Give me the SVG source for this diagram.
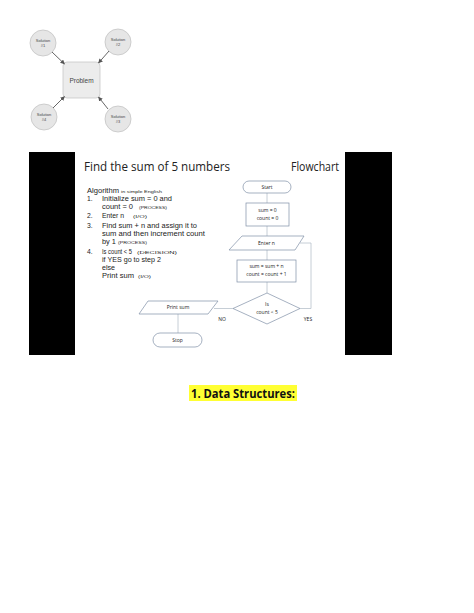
<svg xmlns="http://www.w3.org/2000/svg" width="474" height="613" viewBox="0 0 474 613">
<defs>
<marker id="ah" viewBox="0 0 10 10" refX="9" refY="5" markerWidth="5" markerHeight="5" orient="auto"><path d="M0,0 L10,5 L0,10 z" fill="#555"/></marker>
</defs>
<style>
.sol{fill:#e6e6e6;stroke:#c4c4c4;stroke-width:0.8}
.st{font-family:"Liberation Sans",Arial,sans-serif;font-size:4px;fill:#444;text-anchor:middle}
.arr{stroke:#555;stroke-width:0.9;fill:none}
.alg{font-family:"Liberation Sans",Arial,sans-serif;font-size:6.8px;fill:#222}
.sm{font-family:"Liberation Sans",Arial,sans-serif;font-size:4.2px;fill:#222}
.fs{fill:#fff;stroke:#7f8fa6;stroke-width:0.7}
.ft{font-family:"Open Sans","Liberation Sans",sans-serif;font-size:5px;fill:#222;text-anchor:middle}
.cn{stroke:#b8c2cc;stroke-width:0.8;fill:none}
</style>
<rect width="474" height="613" fill="#fff"/>
<!-- top diagram -->
<g id="problem"><rect x="63" y="62" width="37" height="36" rx="4" fill="#ececec" stroke="#c8c8c8" stroke-width="0.8"/><text x="81.5" y="82.5" font-family="Liberation Sans,Arial,sans-serif" font-size="6.5" fill="#444" text-anchor="middle">Problem</text></g>
<g id="sol1"><circle class="sol" cx="43" cy="43" r="13"/><text class="st" x="43" y="42">Solution</text><text class="st" x="43" y="47">#1</text></g>
<g id="sol2"><circle class="sol" cx="118" cy="42" r="13"/><text class="st" x="118" y="41">Solution</text><text class="st" x="118" y="46">#2</text></g>
<g id="sol4"><circle class="sol" cx="44" cy="117" r="13"/><text class="st" x="44" y="116">Solution</text><text class="st" x="44" y="121">#4</text></g>
<g id="sol3"><circle class="sol" cx="118" cy="119" r="13"/><text class="st" x="118" y="118">Solution</text><text class="st" x="118" y="123">#3</text></g>
<g id="top-connectors">
<line class="arr" x1="52" y1="52" x2="64.5" y2="64" marker-end="url(#ah)"/>
<line class="arr" x1="109" y1="51" x2="98.5" y2="63" marker-end="url(#ah)"/>
<line class="arr" x1="53" y1="108" x2="64.5" y2="96.5" marker-end="url(#ah)"/>
<line class="arr" x1="108" y1="109" x2="98.5" y2="97" marker-end="url(#ah)"/>
</g>
<!-- slide -->
<rect x="29" y="152" width="46" height="203" fill="#000"/>
<rect x="345" y="152" width="47" height="203" fill="#000"/>
<text x="84" y="171" font-family="Open Sans,Liberation Sans,sans-serif" font-size="12.5" fill="#222" textLength="146" lengthAdjust="spacingAndGlyphs">Find the sum of 5 numbers</text>
<text x="291" y="171" font-family="Open Sans,Liberation Sans,sans-serif" font-size="12.5" fill="#222" textLength="48" lengthAdjust="spacingAndGlyphs">Flowchart</text>
<g id="algorithm">
<text class="alg" x="87" y="193" textLength="32" lengthAdjust="spacingAndGlyphs">Algorithm</text><text class="sm" x="121" y="193" textLength="41" lengthAdjust="spacingAndGlyphs">in simple English</text>
<text class="alg" x="87" y="201">1.</text><text class="alg" x="102" y="201" textLength="70" lengthAdjust="spacingAndGlyphs">Initialize sum = 0 and</text>
<text class="alg" x="102" y="209" textLength="31" lengthAdjust="spacingAndGlyphs">count = 0</text><text class="sm" x="139" y="209" textLength="28" lengthAdjust="spacingAndGlyphs">(PROCESS)</text>
<text class="alg" x="87" y="218">2.</text><text class="alg" x="102" y="218" textLength="22" lengthAdjust="spacingAndGlyphs">Enter n</text><text class="sm" x="133" y="218" textLength="14" lengthAdjust="spacingAndGlyphs">(I/O)</text>
<text class="alg" x="87" y="228">3.</text><text class="alg" x="102" y="228" textLength="95" lengthAdjust="spacingAndGlyphs">Find sum + n and assign it to</text>
<text class="alg" x="102" y="236" textLength="103" lengthAdjust="spacingAndGlyphs">sum and then increment count</text>
<text class="alg" x="102" y="244" textLength="14" lengthAdjust="spacingAndGlyphs">by 1</text><text class="sm" x="118" y="244" textLength="29" lengthAdjust="spacingAndGlyphs">(PROCESS)</text>
<text class="alg" x="87" y="254">4.</text><text class="alg" x="102" y="254" textLength="30" lengthAdjust="spacingAndGlyphs">Is count &lt; 5</text><text class="sm" x="137" y="254" textLength="40" lengthAdjust="spacingAndGlyphs">(DECISION)</text>
<text class="alg" x="102" y="262" textLength="59" lengthAdjust="spacingAndGlyphs">if YES go to step 2</text>
<text class="alg" x="102" y="270" textLength="13" lengthAdjust="spacingAndGlyphs">else</text>
<text class="alg" x="102" y="278" textLength="32" lengthAdjust="spacingAndGlyphs">Print sum</text><text class="sm" x="138" y="278" textLength="13" lengthAdjust="spacingAndGlyphs">(I/O)</text>
</g>
<g id="flow-connectors">
<line class="cn" x1="267" y1="193" x2="267" y2="203"/>
<line class="cn" x1="267" y1="226" x2="267" y2="236"/>
<line class="cn" x1="267" y1="250" x2="267" y2="260"/>
<line class="cn" x1="267" y1="282" x2="267" y2="293"/>
<polyline class="cn" points="300,308.5 311,308.5 311,243 300,243"/>
<line class="cn" x1="233" y1="308.5" x2="214" y2="308.5"/>
<line class="cn" x1="178" y1="314" x2="178" y2="333"/>
</g>
<g id="start"><rect class="fs" x="243" y="181" width="48" height="12" rx="6"/><text class="ft" x="267" y="189">Start</text></g>
<g id="init"><rect class="fs" x="246" y="203" width="43" height="23"/><text class="ft" x="267.5" y="212">sum = 0</text><text class="ft" x="267.5" y="220">count = 0</text></g>
<g id="enter"><polygon class="fs" points="242,236 304,236 295,250 229,250"/><text class="ft" x="266.5" y="245">Enter n</text></g>
<g id="update"><rect class="fs" x="237" y="260" width="59" height="22"/><text class="ft" x="266.5" y="268">sum = sum + n</text><text class="ft" x="266.5" y="276">count = count + 1</text></g>
<g id="decision"><polygon class="fs" points="267,293 300,308.5 267,324 233,308.5"/><text class="ft" x="267" y="306">Is</text><text class="ft" x="267" y="314">count &lt; 5</text></g>
<g id="print"><polygon class="fs" points="148,301 218,301 208,314 139,314"/><text class="ft" x="178" y="309">Print sum</text></g>
<g id="stop"><rect class="fs" x="153" y="333" width="49" height="14" rx="7"/><text class="ft" x="177.5" y="342">Stop</text></g>
<text class="ft" x="222" y="321">NO</text>
<text class="ft" x="308" y="321">YES</text>
<!-- heading -->
<rect x="189" y="385" width="108" height="16" fill="#ffff33"/>
<text x="243" y="398" font-family="Open Sans,Liberation Sans,sans-serif" font-weight="bold" font-size="12" fill="#111" text-anchor="middle" textLength="104" lengthAdjust="spacingAndGlyphs">1. Data Structures:</text>
</svg>
